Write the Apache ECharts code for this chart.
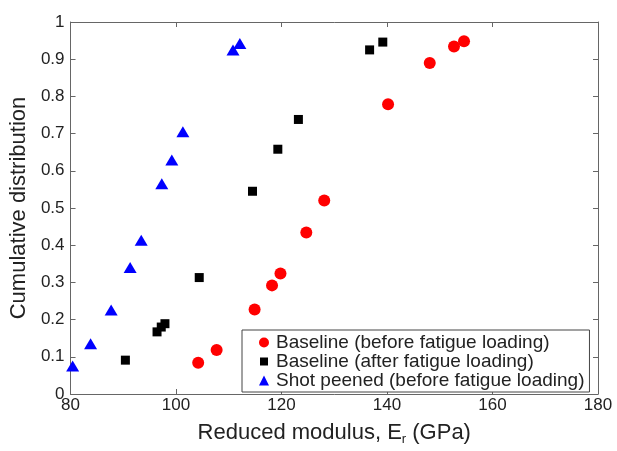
<!DOCTYPE html>
<html><head><meta charset="utf-8">
<script src="https://cdn.jsdelivr.net/npm/echarts@6/dist/echarts.min.js"></script>
<style>html,body{margin:0;padding:0;background:#fff}#c{width:617px;height:451px}</style>
</head><body><div id="c"></div>
<script>
var xTicks = [80, 100, 120, 140, 160, 180];
var yTicks = [0, 0.1, 0.2, 0.3, 0.4, 0.5, 0.6, 0.7, 0.8, 0.9, 1];
var seriesNames = ['Baseline (before fatigue loading)', 'Baseline (after fatigue loading)', 'Shot peened (before fatigue loading)'];
var baselineBeforeX = [104.2, 107.7, 114.9, 118.2, 119.8, 124.7, 128.1, 140.2, 148.1, 152.7, 154.6];
var baselineBeforeY = [0.084, 0.118, 0.227, 0.292, 0.324, 0.434, 0.52, 0.779, 0.89, 0.934, 0.948];
var baselineAfterX = [90.4, 96.4, 97.2, 97.9, 104.4, 114.5, 119.3, 123.2, 136.7, 139.2];
var baselineAfterY = [0.091, 0.167, 0.180, 0.189, 0.313, 0.545, 0.658, 0.738, 0.925, 0.946];
var shotPeenedX = [80.4, 83.8, 87.7, 91.3, 93.4, 97.3, 99.2, 101.3, 110.8, 112.1];
var shotPeenedY = [0.075, 0.135, 0.226, 0.34, 0.413, 0.565, 0.629, 0.705, 0.925, 0.942];

function zip(a, b) { return a.map(function (v, i) { return [v, b[i]]; }); }
var font = 'Liberation Sans, Arial, sans-serif';
var axCol = '#666';
var txtCol = '#222';
var chart = echarts.init(document.getElementById('c'));
var baseX = {
  min: xTicks[0], max: xTicks[xTicks.length - 1], interval: xTicks[1] - xTicks[0],
  axisLine: { onZero: false, lineStyle: { color: axCol, width: 1 } },
  axisTick: { inside: true, length: 5, lineStyle: { color: axCol } },
  splitLine: { show: false }
};
var baseY = {
  min: yTicks[0], max: yTicks[yTicks.length - 1], interval: 0.1,
  axisLine: { onZero: false, lineStyle: { color: axCol, width: 1 } },
  axisTick: { inside: true, length: 5, lineStyle: { color: axCol } },
  splitLine: { show: false }
};
chart.setOption({
  animation: false,
  backgroundColor: '#fff',
  grid: { left: 68, right: 19, top: 22, bottom: 54, containLabel: false },
  xAxis: [
    Object.assign({}, baseX, {
      type: 'value', position: 'bottom',
      axisLabel: { color: txtCol, fontFamily: font, fontSize: 17, margin: 3 },
      name: '{a|Reduced modulus, E}{s|r}{a| (GPa)}', nameLocation: 'middle', nameGap: 25,
      nameTextStyle: { rich: {
        a: { fontFamily: font, fontSize: 22, color: txtCol },
        s: { fontFamily: font, fontSize: 13, color: txtCol, verticalAlign: 'bottom', padding: [14, 0, 0, 0] }
      } }
    }),
    Object.assign({}, baseX, { type: 'value', position: 'top', axisLabel: { show: false } })
  ],
  yAxis: [
    Object.assign({}, baseY, {
      type: 'value', position: 'left',
      axisLabel: { color: txtCol, fontFamily: font, fontSize: 17, margin: 6,
        formatter: function (v) { return String(Math.round(v * 10) / 10); } },
      name: 'Cumulative distribution', nameLocation: 'middle', nameGap: 37,
      nameTextStyle: { fontFamily: font, fontSize: 22, color: txtCol }
    }),
    Object.assign({}, baseY, { type: 'value', position: 'right', axisLabel: { show: false } })
  ],
  legend: {
    left: 242, top: 330,
    orient: 'vertical', itemGap: 0, itemWidth: 10, itemHeight: 10,
    padding: [3, 5, 2, 16],
    borderColor: '#444', borderWidth: 1, backgroundColor: '#fff',
    textStyle: { fontFamily: font, fontSize: 19, lineHeight: 18, color: txtCol, padding: [0, 0, 0, 2] },
    data: [
      { name: seriesNames[0], icon: 'circle' },
      { name: seriesNames[1], icon: 'rect', itemStyle: { borderColor: '#fff', borderWidth: 2 } },
      { name: seriesNames[2], icon: 'triangle' }
    ]
  },
  series: [
    { name: seriesNames[0], type: 'scatter', symbol: 'circle', symbolSize: 12,
      itemStyle: { color: '#ff0000', opacity: 1 }, data: zip(baselineBeforeX, baselineBeforeY) },
    { name: seriesNames[1], type: 'scatter', symbol: 'rect', symbolSize: 9,
      itemStyle: { color: '#000', opacity: 1 }, data: zip(baselineAfterX, baselineAfterY) },
    { name: seriesNames[2], type: 'scatter', symbol: 'triangle', symbolSize: [13, 11],
      itemStyle: { color: '#0000ff', opacity: 1 }, data: zip(shotPeenedX, shotPeenedY) }
  ]
});
</script></body></html>
